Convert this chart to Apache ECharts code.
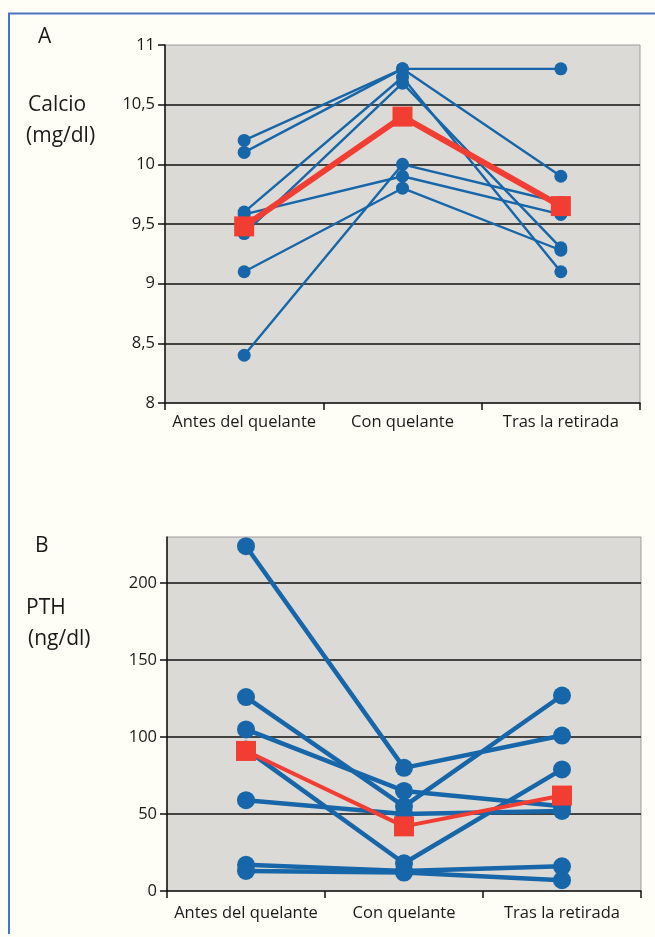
<!DOCTYPE html>
<html>
<head>
<meta charset="utf-8">
<script src="https://cdn.jsdelivr.net/npm/echarts@6/dist/echarts.min.js"></script>
<style>
  html, body { margin: 0; padding: 0; background: #fffef6; }
  #chart { width: 655px; height: 937px; }
</style>
</head>
<body>
<div id="chart"></div>
<script>
// categorías del eje X (las dos gráficas)
const categories = ['Antes del quelante', 'Con quelante', 'Tras la retirada']

// A - calcio por paciente (mg/dl)
const calcio1 = [10.2, 10.8, 10.8]
const calcio2 = [10.1, 10.8, 9.9]
const calcio3 = [9.6, 10.73, 9.1]
const calcio4 = [9.58, 9.9, 9.58]
const calcio5 = [9.42, 10.68, 9.3]
const calcio6 = [9.1, 9.8, 9.28]
const calcio7 = [8.4, 10.0, 9.68]
const calcioMedia = [9.48, 10.4, 9.65]

// B - PTH por paciente (ng/dl)
const pth1 = [224, 80, 101]
const pth2 = [126, 55, 127]
const pth3 = [105, 65, 55]
const pth4 = [92, 18, 79]
const pth5 = [59, 50, 52]
const pth6 = [17, 13, 16]
const pth7 = [13, 12, 7]
const pthMedia = [91, 42, 62]

const calcioSeries = [calcio1, calcio2, calcio3, calcio4, calcio5, calcio6, calcio7]
const pthSeries = [pth1, pth2, pth3, pth4, pth5, pth6, pth7]

const blue = '#1666a9'
const red = '#f23d33'
const font = 'Open Sans'

const myChart = echarts.init(document.getElementById('chart'), null, { renderer: 'canvas' })

function xAxisFor (gridIndex, margin) {
  return {
    type: 'category',
    gridIndex: gridIndex,
    data: categories,
    boundaryGap: true,
    axisLine: { lineStyle: { color: '#111', width: 1.5 } },
    axisTick: { show: true, length: 7, lineStyle: { color: '#111', width: 1.5 } },
    axisLabel: { interval: 0, hideOverlap: false, color: '#1a1a1a', fontSize: 16.5, fontFamily: font, margin: margin },
    splitLine: { show: false }
  }
}

function patientLines (list, gridIndex, width, size) {
  return list.map((d, i) => ({
    name: 'p' + (i + 1),
    type: 'line',
    xAxisIndex: gridIndex,
    yAxisIndex: gridIndex,
    data: d,
    symbol: 'circle',
    symbolSize: size,
    lineStyle: { color: blue, width: width },
    itemStyle: { color: blue },
    z: 3,
    animation: false
  }))
}

function meanLine (data, gridIndex, width, size) {
  return {
    name: 'media',
    type: 'line',
    xAxisIndex: gridIndex,
    yAxisIndex: gridIndex,
    data: data,
    symbol: 'rect',
    symbolSize: size,
    lineStyle: { color: red, width: width },
    itemStyle: { color: red },
    z: 5,
    animation: false
  }
}

const textStyle = { fill: '#1a1a1a', fontFamily: font }

const option = {
  backgroundColor: '#fffef6',
  animation: false,
  grid: [
    { left: 165, right: 15, top: 45, height: 358, show: true, backgroundColor: '#dcdad6', borderColor: '#9c9c9c', borderWidth: 1 },
    { left: 167, right: 14, top: 537, height: 354, show: true, backgroundColor: '#dcdad6', borderColor: '#9c9c9c', borderWidth: 1 }
  ],
  xAxis: [xAxisFor(0, 11), xAxisFor(1, 14)],
  yAxis: [
    {
      type: 'value',
      gridIndex: 0,
      min: 8,
      max: 11,
      interval: 0.5,
      axisLine: { show: true, lineStyle: { color: '#111', width: 1.5 } },
      axisTick: { show: true, length: 7, lineStyle: { color: '#111', width: 1.5 } },
      axisLabel: {
        color: '#1a1a1a',
        fontSize: 16.5,
        fontFamily: font,
        margin: 10,
        formatter: v => String(v).replace('.', ',')
      },
      splitLine: { show: true, showMinLine: false, showMaxLine: false, lineStyle: { color: '#111', width: 1.5 } }
    },
    {
      type: 'value',
      gridIndex: 1,
      min: 0,
      max: 230,
      interval: 50,
      axisLine: { show: true, lineStyle: { color: '#111', width: 1.5 } },
      axisTick: { show: true, length: 7, lineStyle: { color: '#111', width: 1.5 } },
      axisLabel: { color: '#1a1a1a', fontSize: 16.5, fontFamily: font, margin: 10, showMaxLabel: false },
      splitLine: { show: true, showMinLine: false, showMaxLine: false, lineStyle: { color: '#111', width: 1.5 } }
    }
  ],
  graphic: [
    // marco azul
    { type: 'polyline', shape: { points: [[9, 934], [9, 13.5], [655, 13.5]] }, style: { stroke: '#4a74c4', lineWidth: 2, fill: null } },
    { type: 'text', left: 38, top: 27, style: Object.assign({ text: 'A', fontSize: 21 }, textStyle) },
    { type: 'text', left: 28, top: 95, style: Object.assign({ text: 'Calcio', fontSize: 21 }, textStyle) },
    { type: 'text', left: 26, top: 126, style: Object.assign({ text: '(mg/dl)', fontSize: 21 }, textStyle) },
    { type: 'text', left: 35, top: 536, style: Object.assign({ text: 'B', fontSize: 21 }, textStyle) },
    { type: 'text', left: 26, top: 598, style: Object.assign({ text: 'PTH', fontSize: 21 }, textStyle) },
    { type: 'text', left: 28, top: 629, style: Object.assign({ text: '(ng/dl)', fontSize: 21 }, textStyle) }
  ],
  series: [
    ...patientLines(calcioSeries, 0, 2.4, 13),
    meanLine(calcioMedia, 0, 6, 20),
    ...patientLines(pthSeries, 1, 4.5, 18),
    meanLine(pthMedia, 1, 4, 20)
  ]
}

myChart.setOption(option)
</script>
</body>
</html>
